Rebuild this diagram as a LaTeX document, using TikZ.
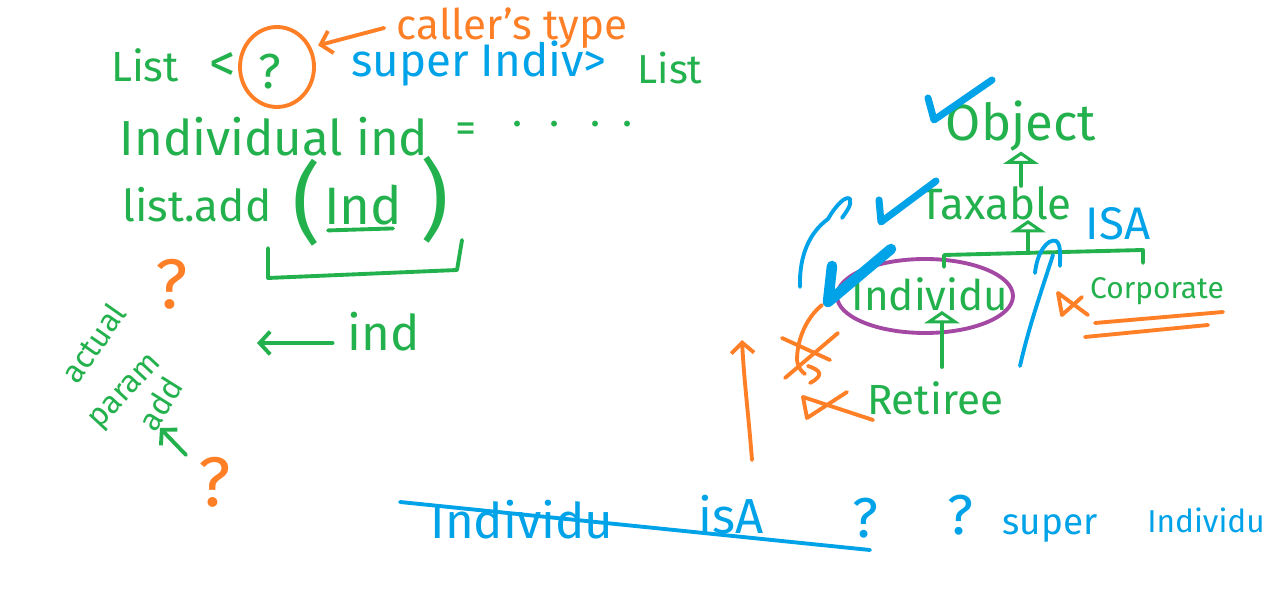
\documentclass[tikz,border=0pt]{standalone}
\usepackage{fontspec}
\setmainfont{Fira Sans}
\usetikzlibrary{arrows.meta,shapes.geometric}
\definecolor{grn}{HTML}{22B14C}
\definecolor{org}{HTML}{FF7F27}
\definecolor{blu}{HTML}{00A2E8}
\definecolor{pur}{HTML}{A349A4}
\newcommand{\hfs}[1]{\fontsize{#1}{#1}\selectfont}
\begin{document}
\begin{tikzpicture}[x=0.02cm,y=-0.02cm,line cap=round,line join=round,
  pen/.style={line width=2.2pt},
  gp/.style={pen,draw=grn}, op/.style={pen,draw=org}, bp/.style={pen,draw=blu},
  tg/.style={text=grn,inner sep=0pt}, tor/.style={text=org,inner sep=0pt}, tb/.style={text=blu,inner sep=0pt},
  barb/.style={-{Straight Barb[length=6pt,width=13pt]}},
  tri/.style={-{Triangle[open,length=7pt,width=20pt]}},
  chk/.style={draw=blu,line width=4pt}]
\fill[white] (0,0) rectangle (1268,590);
\useasboundingbox (0,0) rectangle (1268,590);

% ---------- top left: generic declaration ----------
\node[tg,font=\hfs{24}] (list1) at (145,65) {List};
\node[tg,font=\hfs{30}] (lt) at (223,67) {<};
\node[tg,font=\hfs{28}] (q1) at (270,72) {?};
\node[draw=org,line width=2.2pt,ellipse,minimum width=1.48cm,minimum height=1.6cm] (qc) at (277,67) {};
\node[tor,font=\hfs{24}] (caller) at (512,28) {caller's type};
\draw[op,barb,shorten >=4pt] ([xshift=-0.25cm]caller.west) -- (qc.30);
\node[tb,font=\hfs{26}] (super) at (479,64) {super Indiv>};
\node[tg,font=\hfs{23}] (list2) at (670,68) {List};

\node[tg,font=\hfs{28}] (indl) at (274,137) {Individual ind};
\node[tg,font=\hfs{24}] (eq) at (466,133) {=};
\node[tg,font=\hfs{24},anchor=west] (dots) at (512,124) {.\hspace{0.55cm}.\hspace{0.6cm}.\hspace{0.45cm}.};

\node[tg,font=\hfs{25}] (listadd) at (197,205) {list.add};
\node[tg,font=\hfs{50}] (lp) at (307,203) {(};
\node[tg,font=\hfs{30}] (Ind) at (363,205) {Ind};
\node[tg,font=\hfs{50}] (rp) at (435,200) {)};
\draw[gp] ([xshift=-0.7cm,yshift=-0.1cm]Ind.south) -- ([xshift=0.6cm,yshift=-0.06cm]Ind.south);
\draw[gp] (268,248) -- (268,278) -- (457,270) -- (462,240);

\node[tg,font=\hfs{28}] (ind) at (384,332) {ind};
\coordinate (ia) at (257,343);
\draw[gp,barb] ([shift={(-15,11)}]ind.west) -- (ia);

\node[tor,font=\hfs{40}] (oq1) at (172,284) {?};
\node[tor,font=\hfs{40}] (oq2) at (215,482) {?};

\node[tg,font=\hfs{18},rotate=55] (actual) at (93,343) {actual};
\node[tg,font=\hfs{18},rotate=47] (param) at (127,393) {param};
\node[tg,font=\hfs{18},rotate=58] (add) at (160,404) {add};
\coordinate (addtip) at (160,428);
\draw[gp,barb] (186,455) -- (addtip);

% ---------- right: hierarchy ----------
\node[tg,font=\hfs{29}] (Object) at (1021,126) {Object};
\node[tg,font=\hfs{25}] (Taxable) at (996,203) {Taxable};
\node[tb,font=\hfs{26}] (ISA) at (1118,224) {ISA};
\node[draw=pur,line width=2.2pt,ellipse,minimum width=3.52cm,minimum height=1.48cm] (indE) at (925,296) {};
\node[tg,font=\hfs{24}] (Individu) at (930,294) {Individu};
\node[tg,font=\hfs{17}] (Corporate) at (1157,291) {Corporate};
\node[tg,font=\hfs{24}] (Retiree) at (935,398) {Retiree};

\draw[gp,tri] (Object.south |- Taxable.north) -- (Object.south);
\coordinate (bar) at (1028,252);
\draw[gp] (944,267) -- (944,255) -- (1143,250) -- (1143,263);
\draw[gp,tri] (bar) -- (bar |- Taxable.south);
\coordinate (rtop) at (942,367);
\draw[gp,tri] (rtop) -- (rtop |- Individu.south);

% checks
\draw[chk] (928,98) -- (934,120) -- (992,80);
\draw[chk] (879,200) -- (881,222) -- (936,181);
\draw[chk,line width=6pt] (832,266) -- (828,302) -- (891,249);

% blue arcs
\draw[bp] (800,287) .. controls (799,255) and (810,232) .. (828,219)
          .. controls (836,205) and (846,195) .. (850,199) .. controls (852,205) and (846,212) .. (842,218);
\draw[bp] (1035,273) .. controls (1037,252) and (1048,238) .. (1056,241) .. controls (1061,244) and (1060,255) .. (1060,266);
\draw[bp] (1053,255) .. controls (1040,295) and (1028,330) .. (1020,366);

% orange marks
\draw[op,barb] (752,460) .. controls (748,410) and (744,380) .. (742,340);
\draw[op] (803,397) -- (807,418) -- (847,392);
\draw[op] (803,397) -- (873,420);
\draw[op] (822,305) .. controls (806,318) and (797,340) .. (797,360) .. controls (798,368) and (802,372) .. (805,374);
\draw[op] (782,338) -- (830,360);
\draw[op] (838,333) -- (785,378);
\draw[op] (808,366) .. controls (820,370) and (825,375) .. (810,383);
\draw[op] (1058,293) -- (1062,315) -- (1082,297);
\draw[op] (1058,293) -- (1088,315);
\draw[op] (1095,323) -- (1223,312);
\draw[op] (1085,337) -- (1208,325);

% ---------- bottom row ----------
\node[tb,font=\hfs{28}] (bInd) at (522,520) {Individu};
\node[tb,font=\hfs{28}] (bisA) at (731,515) {isA};
\draw[bp] (400,502) -- (870,550);
\node[tb,font=\hfs{32}] (bq1) at (865,518) {?};
\node[tb,font=\hfs{32}] (bq2) at (960,515) {?};
\node[tb,font=\hfs{21}] (bsuper) at (1050,528) {super};
\node[tb,font=\hfs{18}] (bInd2) at (1206,520) {Individu};
\end{tikzpicture}
\end{document}
